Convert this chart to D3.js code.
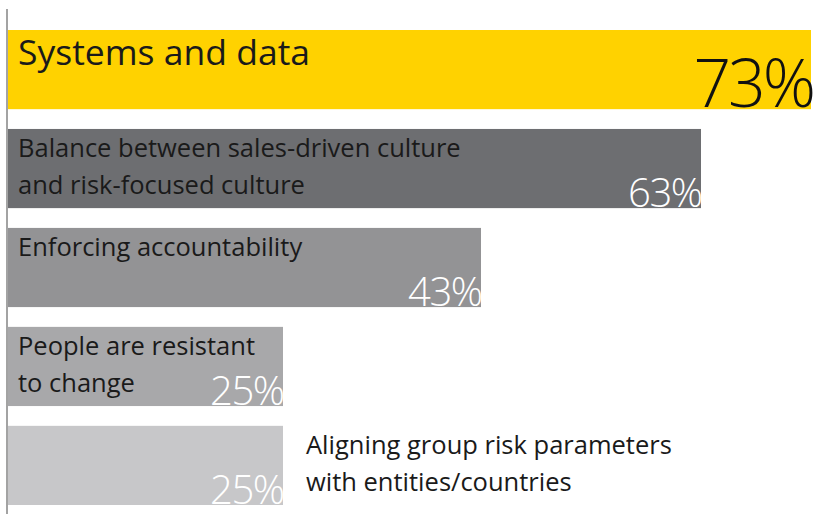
<!DOCTYPE html>
<html><head><meta charset="utf-8">
<script src="https://cdn.jsdelivr.net/npm/d3@7"></script>
<style>html,body{margin:0;padding:0;background:#fff;}svg{display:block;}</style>
</head><body>
<svg id="chart" width="814" height="514"></svg>
<script>
const categories = ["Systems and data", "Balance between sales-driven culture and risk-focused culture", "Enforcing accountability", "People are resistant to change", "Aligning group risk parameters with entities/countries"];
const labelLines = [
  ["Systems and data"],
  ["Balance between sales-driven culture", "and risk-focused culture"],
  ["Enforcing accountability"],
  ["People are resistant", "to change"],
  ["Aligning group risk parameters", "with entities/countries"]
];
const values = [73, 63, 43, 25, 25];
const valueLabels = ["73%", "63%", "43%", "25%", "25%"];
const palette = ["#FFD200", "#6D6E71", "#939395", "#A8A8AA", "#C7C7C9"];

const svg = d3.select("#chart");
const font = "'Open Sans', sans-serif";
const x = d3.scaleLinear().domain([0, 73]).range([8, 811]);
const y = d3.scaleBand().domain(d3.range(values.length)).range([30, 505]).paddingInner(0.2).paddingOuter(0);

// bars
svg.selectAll("rect.bar").data(values).join("rect")
  .attr("class", "bar")
  .attr("x", x(0))
  .attr("y", (d, i) => y(i))
  .attr("width", d => x(d) - x(0))
  .attr("height", y.bandwidth())
  .attr("fill", (d, i) => palette[i]);

// vertical axis line
svg.append("line")
  .attr("x1", 7).attr("x2", 7).attr("y1", 9).attr("y2", 514)
  .attr("stroke", "#a3a3a3").attr("stroke-width", 2);

// category labels
labelLines.forEach((lines, i) => {
  const first = i === 0;
  const tx = i === 4 ? x(values[i]) + 23 : 18;
  const t = svg.append("text")
    .attr("x", tx)
    .attr("y", y(i) + (first ? 35 : 28))
    .attr("font-family", font)
    .attr("font-size", first ? 35.5 : 25.5)
    .attr("fill", "#1a1a1a");
  lines.forEach((ln, k) => {
    t.append("tspan").attr("x", tx).attr("dy", k === 0 ? 0 : 37).text(ln);
  });
});

// value labels
svg.selectAll("text.val").data(values).join("text")
  .attr("class", "val")
  .attr("x", (d, i) => x(d) + (i === 0 ? 2 : 0.5))
  .attr("y", (d, i) => y(i) + y.bandwidth() - (i === 0 ? 2 : 1))
  .attr("text-anchor", "end")
  .attr("font-family", font)
  .attr("font-weight", 300)
  .attr("font-size", (d, i) => i === 0 ? 66 : 40)
  .attr("letter-spacing", (d, i) => i === 0 ? -3 : -1.5)
  .attr("fill", (d, i) => i === 0 ? "#111" : "#fff")
  .text((d, i) => valueLabels[i]);
</script>
</body></html>
